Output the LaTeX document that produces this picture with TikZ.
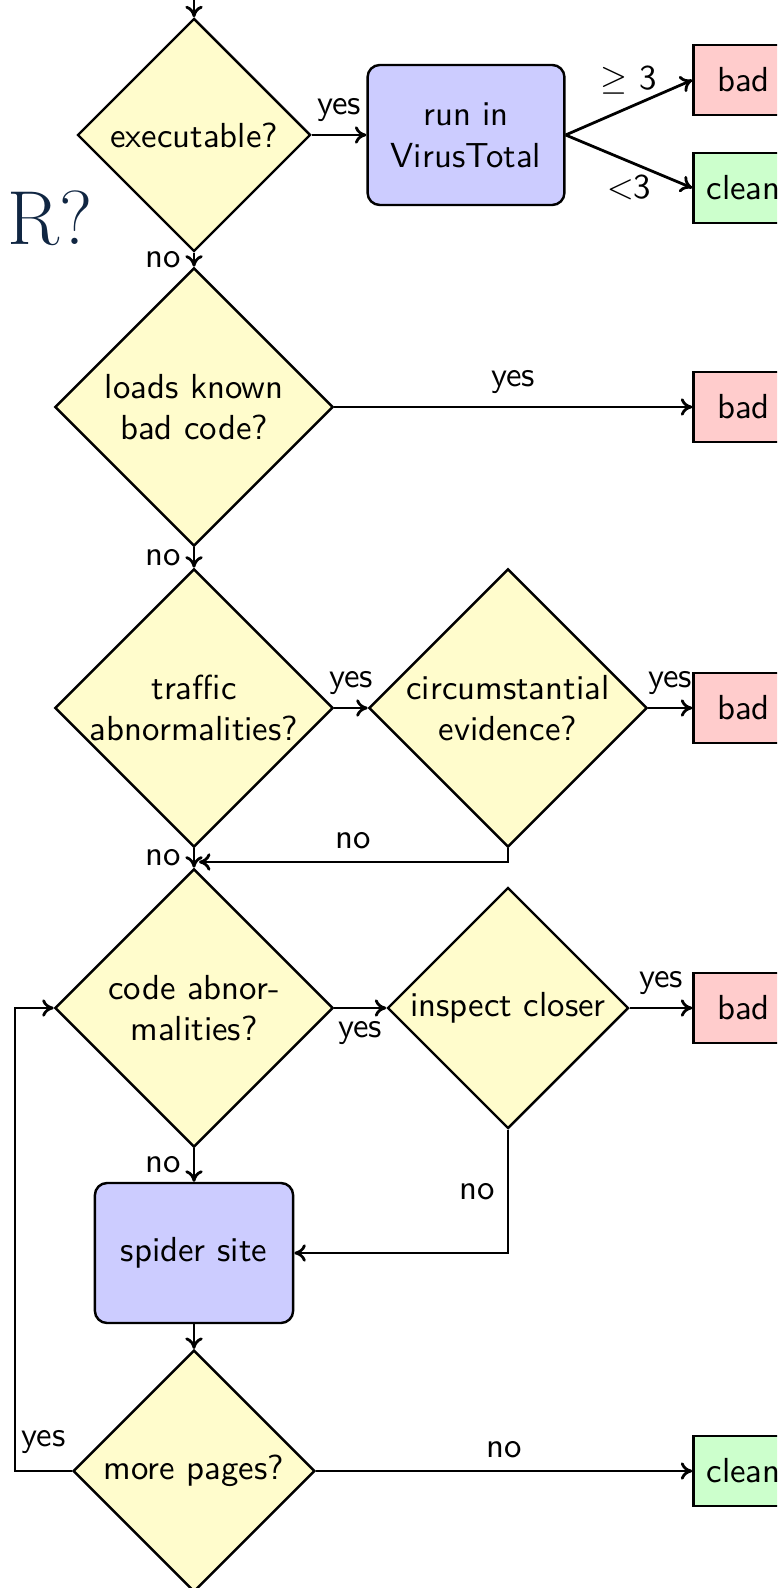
\documentclass[tikz,border=0pt]{standalone}
\usetikzlibrary{shapes.geometric,arrows.meta}
\definecolor{titlecol}{RGB}{16,38,66}
\begin{document}
\begin{tikzpicture}[x=0.2875pt,y=-0.2875pt,
  every node/.style={font=\sffamily},
  dec/.style={diamond, draw, fill=yellow!20, line width=0.7pt, inner sep=0pt, shape aspect=1},
  proc/.style={rectangle, rounded corners=3.5pt, draw, fill=blue!20, line width=0.7pt, minimum width=57pt, minimum height=40.25pt, align=center},
  badbox/.style={rectangle, draw, fill=red!20, line width=0.7pt, minimum width=28.75pt, minimum height=20.1pt},
  cleanbox/.style={rectangle, draw, fill=green!20, line width=0.7pt, minimum width=28.75pt, minimum height=20.1pt},
  arr/.style={-{To[length=3.3pt,width=5pt]}, line width=0.8pt},
  txt/.style={align=center}]
\useasboundingbox (0,0) rectangle (777,1588);
\clip (0,0) rectangle (777,1588);

\node[anchor=base east, inner sep=0pt, font=\rmfamily\fontsize{22}{26}\selectfont, text=titlecol] (ttl) at (93.5,245) {R?};

% decisions
\node[dec, minimum width=67pt, minimum height=67pt] (d1) at (194,135) {};
\node[txt] (t1) at (d1) {executable?};
\node[dec, minimum width=80pt, minimum height=80pt] (d2) at (194,407) {};
\node[txt] (t2) at (d2) {loads known\\bad code?};
\node[dec, minimum width=80pt, minimum height=80pt] (d3) at (194,708) {};
\node[txt] (t3) at (d3) {traffic\\abnormalities?};
\node[dec, minimum width=80pt, minimum height=80pt] (d4) at (508,708) {};
\node[txt] (t4) at (d4) {circumstantial\\evidence?};
\node[dec, minimum width=80pt, minimum height=80pt] (d5) at (194,1008) {};
\node[txt] (t5) at (d5) {code abnor-\\malities?};
\node[dec, minimum width=69.3pt, minimum height=69.3pt] (d6) at (508,1008) {};
\node[txt] (t6) at (d6) {inspect closer};
\node[dec, minimum width=69.5pt, minimum height=69.5pt] (d7) at (194,1471) {};
\node[txt] (t7) at (d7) {more pages?};

% processes
\node[proc, minimum width=56.6pt] (vt) at (466,135) {run in\\VirusTotal};
\node[proc] (sp) at (194,1253) {spider site};

% outcomes
\node[badbox] (b1) at (743.5,80) {bad};
\node[cleanbox] (c1) at (743.5,188) {clean};
\node[badbox] (b2) at (743.5,407) {bad};
\node[badbox] (b3) at (743.5,708) {bad};
\node[badbox] (b4) at (743.5,1008) {bad};
\node[cleanbox] (c2) at (743.5,1471) {clean};

\coordinate (topin) at (194,-30);
\coordinate (join) at (199,862);
\coordinate (loopA) at (15,1471);

% connectors
\draw[arr] (topin) -- (d1.north);
\draw[arr] (d1.east) -- node[above]{yes} (vt.west);
\draw[arr] (vt.east) -- node[above]{$\geq$ 3} (b1.west);
\draw[arr] (vt.east) -- node[below]{$<$3} (c1.west);
\draw[arr] (d1.south) -- node[left]{no} (d2.north);
\draw[arr] (d2.east) -- node[above]{yes} (b2.west);
\draw[arr] (d2.south) -- node[left]{no} (d3.north);
\draw[arr] (d3.east) -- node[above]{yes} (d4.west);
\draw[arr] (d4.east) -- node[above]{yes} (b3.west);
\draw[arr] (d4.south) |- node[pos=0.75, above]{no} (join);
\draw[arr] (d3.south) -- node[left]{no} (d5.north);
\draw[arr] (d5.east) -- node[below]{yes} (d6.west);
\draw[arr] (d6.east) -- node[above]{yes} (b4.west);
\draw[arr] (d6.south) |- node[pos=0.25, left]{no} (sp.east);
\draw[arr] (d5.south) -- node[left]{no} (sp.north);
\draw[arr] (sp.south) -- (d7.north);
\draw[arr] (d7.west) -- (loopA) node[anchor=south west, inner sep=0pt, xshift=1.5pt, yshift=4.5pt]{yes} |- (d5.west);
\draw[arr] (d7.east) -- node[above]{no} (c2.west);
\end{tikzpicture}
\end{document}
